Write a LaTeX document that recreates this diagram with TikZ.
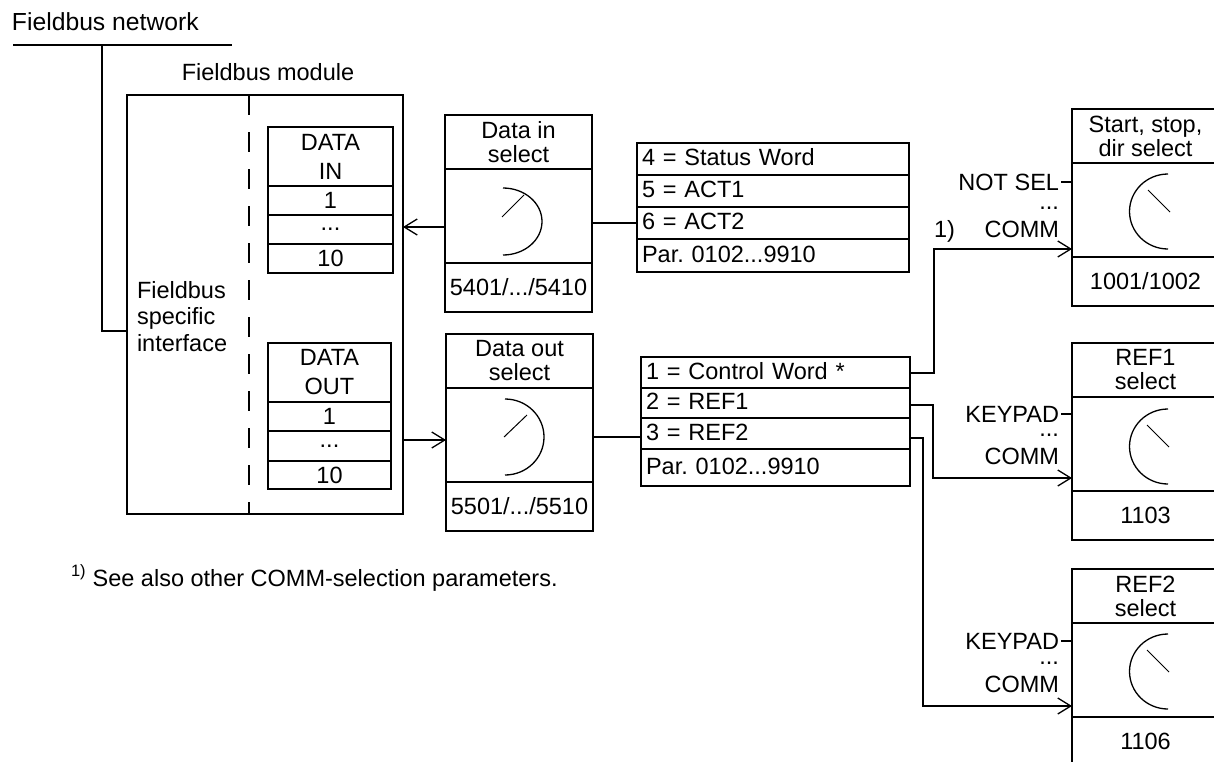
\documentclass[tikz,border=0pt]{standalone}
\usepackage{fontspec}
\setmainfont{Liberation Sans}
\usetikzlibrary{arrows.meta}
\frenchspacing
\newcommand\myfz{\fontsize{23.5}{24}\selectfont}
\newcommand\myfzb{\fontsize{24.7}{26}\selectfont}
\newcommand\myfzd{\fontsize{23.5}{29}\selectfont}
\newcommand\myfzf{\fontsize{23.5}{26.5}\selectfont}
\newcommand\selector[5]{%
  \node[box, minimum width=147pt, minimum height=54pt] (#1H) at (#2,#3) {#4};
  \node[box, minimum width=147pt, minimum height=94pt] (#1D) at (#1H.south west) {};
  \node[box, minimum width=147pt, minimum height=49pt] (#1F) at (#1D.south west) {#5};}
\begin{document}
\begin{tikzpicture}[x=1pt,y=-1pt,
  box/.style={draw, line width=2pt, inner sep=0pt, outer sep=0pt, anchor=north west, font=\myfz, align=center},
  row/.style={draw, line width=2pt, outer sep=0pt, anchor=north west, inner xsep=5pt, inner ysep=0pt, align=left, text height=13pt, text depth=0pt, font=\myfz},
  txt/.style={inner sep=0pt, outer sep=0pt, font=\myfz},
  conn/.style={line width=2pt},
  arr/.style={conn, -{Straight Barb[length=13pt,width=16pt,line width=1.3pt]}},
  dial/.style={line width=1.3pt},
  needle/.style={line width=1pt}]
\useasboundingbox (0,0) rectangle (1214,761);
\clip (0,0) rectangle (1214,761);

% fieldbus network
\node[txt, anchor=base west, font=\myfzb] (fbn) at (12,30) {Fieldbus network};
\coordinate (busL) at (13,45);
\coordinate (busR) at (232,45);
\coordinate (busT) at (102,45);
\draw[conn] (busL) -- (busR);

% module
\node[txt, anchor=base] (fbm) at (268,80) {Fieldbus module};
\node[box, minimum width=276pt, minimum height=419pt] (mod) at (127,95) {};
\coordinate (dashT) at (249,95);
\coordinate (dashB) at (249,514);
\draw[line width=2pt, dash pattern=on 20pt off 17pt] (dashT) -- (dashB);
\draw[conn] (busT) |- ([yshift=-26.5pt]mod.west);
\node[txt, anchor=north west, align=left, font=\myfzf] (fsi) at (137,281) {Fieldbus\\specific\\interface};

% DATA IN
\node[box, minimum width=125pt, minimum height=59pt, font=\myfzd] (diH) at (268,127) {DATA\\IN};
\node[box, minimum width=125pt, minimum height=29pt] (di1) at (diH.south west) {1};
\node[box, minimum width=125pt, minimum height=29pt] (di2) at (di1.south west) {...};
\node[box, minimum width=125pt, minimum height=29pt] (di3) at (di2.south west) {10};
% DATA OUT
\node[box, minimum width=123pt, minimum height=59pt, font=\myfzd] (doH) at (268,343) {DATA\\OUT};
\node[box, minimum width=123pt, minimum height=29pt] (do1) at (doH.south west) {1};
\node[box, minimum width=123pt, minimum height=30pt] (do2) at (do1.south west) {...};
\node[box, minimum width=123pt, minimum height=28pt] (do3) at (do2.south west) {10};

% selectors
\selector{din}{445}{115}{Data in\\select}{5401/.../5410}
\selector{dout}{446}{334}{Data out\\select}{5501/.../5510}
\selector{ss}{1072}{109}{Start, stop,\\dir select}{1001/1002}
\selector{ra}{1072}{343}{REF1\\select}{1103}
\selector{rb}{1072}{569}{REF2\\select}{1106}

% dials
\draw[dial] (503,188) arc[start angle=-90, end angle=90, x radius=39, y radius=33.5];
\draw[needle] (502,217) -- (524,195);
\draw[dial] (505,399) arc[start angle=-90, end angle=90, x radius=39, y radius=38];
\draw[needle] (504,437) -- (527,415);
\draw[dial] (1168,174) arc[start angle=-90, end angle=-270, x radius=38.5, y radius=37.5];
\draw[needle] (1148,190) -- (1170,212);
\draw[dial] (1168,409) arc[start angle=-90, end angle=-270, x radius=38.5, y radius=37.5];
\draw[needle] (1147,425) -- (1169,447);
\draw[dial] (1168,634) arc[start angle=-90, end angle=-270, x radius=38.5, y radius=37.5];
\draw[needle] (1147,650) -- (1169,672);

% list 1
\node[row, minimum width=272pt, minimum height=32pt, text width=262pt] (la) at (637,143) {4 = Status Word};
\node[row, minimum width=272pt, minimum height=32pt, text width=262pt] (lb) at (la.south west) {5 = ACT1};
\node[row, minimum width=272pt, minimum height=32pt, text width=262pt] (lc) at (lb.south west) {6 = ACT2};
\node[row, minimum width=272pt, minimum height=33pt, text width=262pt] (ld) at (lc.south west) {Par. 0102...9910};
% list 2
\node[row, minimum width=269pt, minimum height=31pt, text width=259pt] (ma) at (641,357) {1 = Control Word *};
\node[row, minimum width=269pt, minimum height=30pt, text width=259pt] (mb) at (ma.south west) {2 = REF1};
\node[row, minimum width=269pt, minimum height=31pt, text width=259pt] (mc) at (mb.south west) {3 = REF2};
\node[row, minimum width=269pt, minimum height=37pt, text width=259pt] (md) at (mc.south west) {Par. 0102...9910};

% connectors left
\draw[arr] ([yshift=-11pt]dinD.west) -- ([yshift=-11pt]dinD.west -| mod.east);
\draw[conn] (dinD.east |- lc.west) -- (lc.west);
\draw[arr] ([yshift=-5pt]doutD.west -| mod.east) -- ([yshift=-5pt]doutD.west);
\draw[conn] ([yshift=-3.5pt]doutD.east |- mc.west) -- ([yshift=-3.5pt]mc.west);

% connectors right
\coordinate (j1) at (934,0);
\coordinate (j2) at (933,0);
\coordinate (j3) at (923,0);
\coordinate (ssIn) at ([yshift=8pt]ssD.south west);
\coordinate (raIn) at ([yshift=13pt]raD.south west);
\coordinate (rbIn) at ([yshift=11pt]rbD.south west);
\draw[arr] (ma.east) -- (ma.east -| j1) -- (j1 |- ssIn) -- (ssIn);
\draw[arr] ([yshift=-2pt]mb.east) -- ([yshift=-2pt]mb.east -| j2) -- (j2 |- raIn) -- (raIn);
\draw[arr] ([yshift=-4pt]mc.east) -- ([yshift=-4pt]mc.east -| j3) -- (j3 |- rbIn) -- (rbIn);

% input labels
\node[txt, anchor=base east] (ssA) at (1059,190) {NOT SEL};
\node[txt, anchor=base east] (ssB) at (1059,209) {...};
\node[txt, anchor=base east] (ssC) at (1059,237) {COMM};
\node[txt, anchor=base west] (fnm) at (934,237) {1)};
\draw[conn] ([xshift=2pt]ssA.east) -- (ssA.east -| ssD.west);
\node[txt, anchor=base east] (raA) at (1059,422) {KEYPAD};
\node[txt, anchor=base east] (raB) at (1059,436) {...};
\node[txt, anchor=base east] (raC) at (1059,464) {COMM};
\draw[conn] ([xshift=2pt]raA.east) -- (raA.east -| raD.west);
\node[txt, anchor=base east] (rbA) at (1059,649) {KEYPAD};
\node[txt, anchor=base east] (rbB) at (1059,664) {...};
\node[txt, anchor=base east] (rbC) at (1059,692) {COMM};
\draw[conn] ([xshift=2pt]rbA.east) -- (rbA.east -| rbD.west);

% footnote
\node[txt, anchor=base west] (fn) at (71,586) {\textsuperscript{1)} See also other COMM-selection parameters.};
\end{tikzpicture}
\end{document}
